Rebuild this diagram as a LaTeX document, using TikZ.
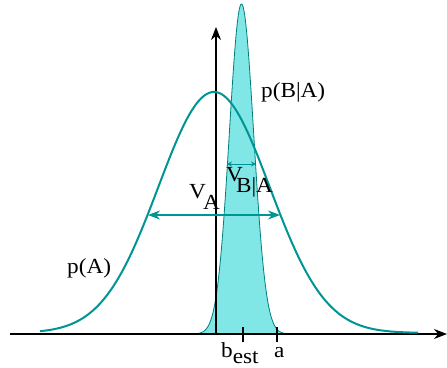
\documentclass[tikz,border=0pt]{standalone}
\usepackage{fontspec}
\setmainfont{Liberation Serif}
\usetikzlibrary{arrows.meta}
\definecolor{tealline}{RGB}{0,148,148}
\definecolor{tealfill}{RGB}{128,230,230}
\newcommand\lowsub[3]{#1\kern#3\raisebox{-0.55em}{#2}}
\begin{document}
\begin{tikzpicture}[x=1pt,y=-1pt,
  lbl/.style={anchor=base west,inner sep=0pt,font=\fontsize{21.5}{24}\selectfont,xscale=1.08},
  axisline/.style={line width=1.1pt,-{Stealth[length=13pt,width=10pt]}},
  tick/.style={line width=1.6pt},
  vararrow/.style={tealline,line width=1.1pt,{Stealth[length=12pt,width=9pt]}-{Stealth[length=12pt,width=9pt]}},
  smallarrow/.style={tealline,line width=0.9pt,{Stealth[length=5pt,width=5pt]}-{Stealth[length=5pt,width=5pt]}}]
\useasboundingbox (0,0) rectangle (447,367);
% narrow gaussian p(B|A)
\fill[tealfill] plot[domain=195:288,samples=150] (\x,{334-330*exp(-0.5*((\x-241.5)/12.2)^2)}) -- cycle;
\draw[tealline!85!black,line width=0.8pt] plot[domain=195:288,samples=150] (\x,{334-330*exp(-0.5*((\x-241.5)/12.2)^2)});
% axes
\coordinate (xs) at (10,334);
\coordinate (xe) at (447,334);
\coordinate (ys) at (216,334);
\coordinate (ye) at (216,27);
\draw[axisline] (xs) -- (xe);
\draw[axisline] (ys) -- (ye);
% wide gaussian p(A)
\draw[tealline,line width=2pt] plot[domain=40:418,samples=200] (\x,{333-241*exp(-0.5*((\x-214)/55.6)^2)});
% variance arrows
\coordinate (va1) at (148,215);
\coordinate (va2) at (280,215);
\draw[vararrow] (va1) -- (va2);
\coordinate (vb1) at (227,164);
\coordinate (vb2) at (256,164);
\draw[smallarrow] (vb1) -- (vb2);
% ticks
\coordinate (t1a) at (243,327);
\coordinate (t1b) at (243,342);
\coordinate (t2a) at (277,327);
\coordinate (t2b) at (277,342);
\draw[tick] (t1a) -- (t1b);
\draw[tick] (t2a) -- (t2b);
% labels
\node[lbl] (pba) at (261,97) {p(B|A)};
\node[lbl] (pa) at (67,273) {p(A)};
\node[lbl] (va) at (189,198) {\lowsub{V}{A}{-0.12em}};
\node[lbl] (vb) at (226,181) {\lowsub{V}{B|A}{-0.3em}};
\node[lbl] (best) at (221,357) {b\raisebox{-0.3em}{est}};
\node[lbl] (a) at (274,357) {a};
\end{tikzpicture}
\end{document}
